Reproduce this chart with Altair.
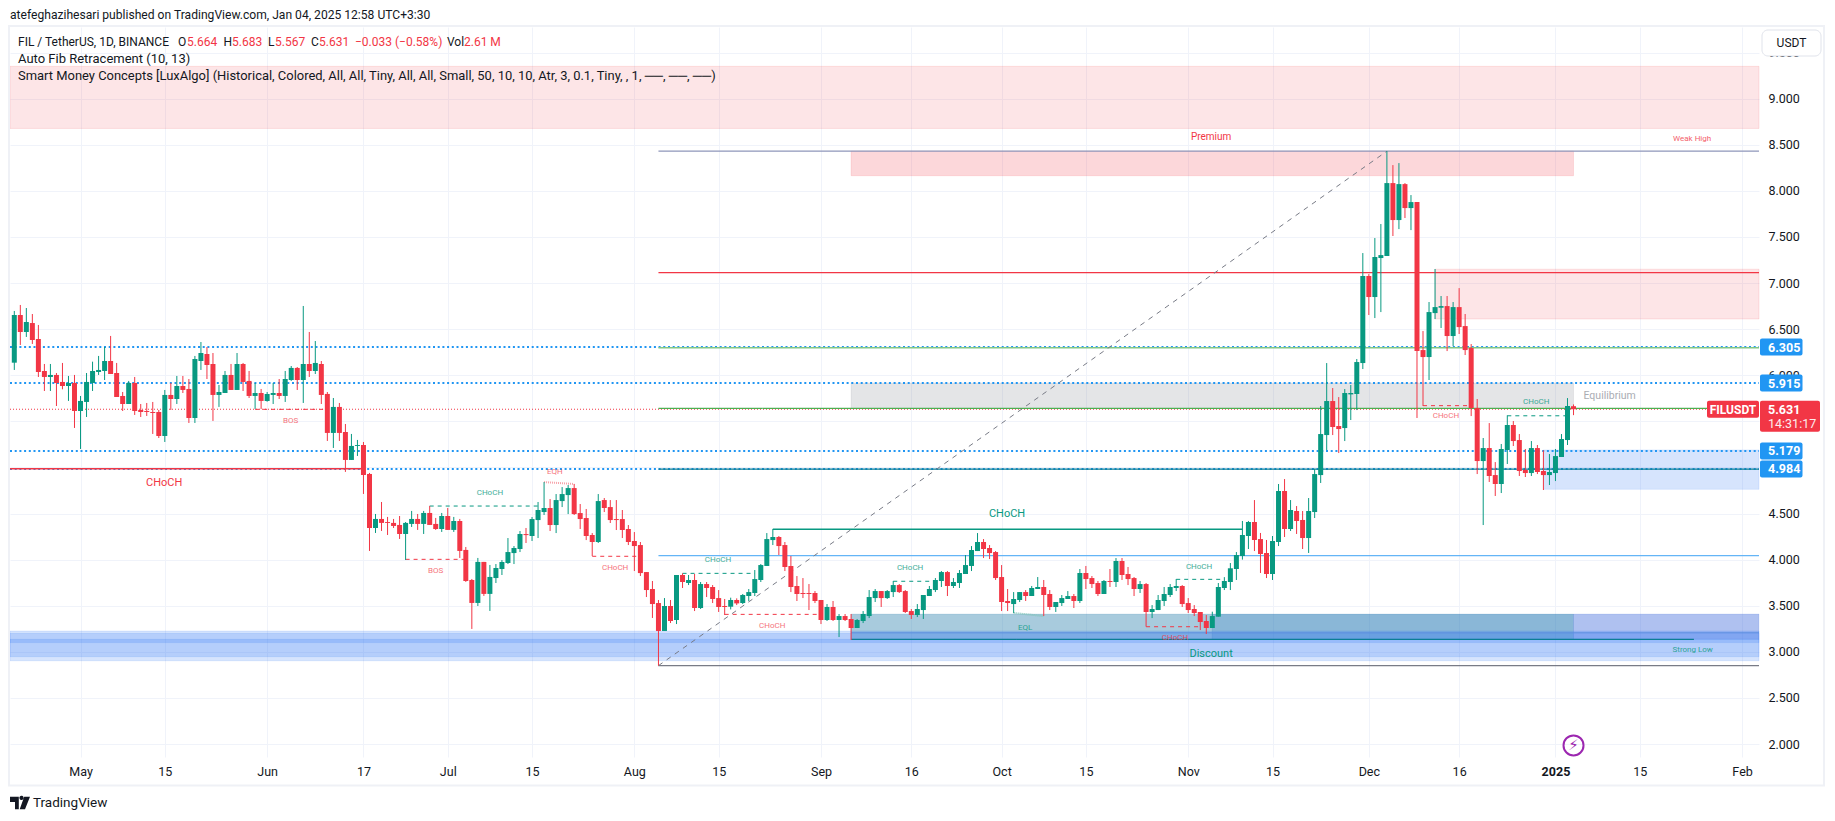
import altair as alt
import pandas as pd

FONT = "Roboto"
GREEN = "#089981"
RED = "#F23645"
BLUE = "#2196F3"
INK = "#131722"

# one candle per day, 20 Apr 2024 (bar 1) to 4 Jan 2025 (bar 260)
opens = [
6.136,6.653,6.469,6.566,6.393,6.046,5.981,6.003,5.927,5.883,
5.916,5.612,5.710,5.916,6.035,6.046,6.154,6.024,5.775,5.688,
5.916,5.623,5.612,5.601,5.601,5.341,5.786,5.742,5.883,5.851,
5.536,6.154,6.230,6.122,5.786,5.807,6.003,5.840,6.122,5.938,
5.775,5.807,5.721,5.786,5.807,5.775,5.948,6.079,5.948,6.122,
6.046,6.122,5.797,5.374,5.656,5.384,5.081,5.233,5.243,4.929,
4.343,4.441,4.408,4.398,4.376,4.278,4.387,4.441,4.387,4.506,
4.387,4.332,4.473,4.322,4.419,4.105,3.779,3.530,3.975,3.628,
3.800,3.898,3.963,4.071,4.115,4.277,4.256,4.429,4.516,4.560,
4.375,4.635,4.700,4.776,4.505,4.451,4.267,4.191,4.646,4.570,
4.440,4.440,4.332,4.202,4.158,3.865,3.681,3.529,3.226,3.497,
3.345,3.833,3.746,3.779,3.475,3.735,3.703,3.583,3.497,3.489,
3.562,3.529,3.605,3.638,3.779,3.931,4.212,4.245,4.158,3.931,
3.714,3.638,3.638,3.638,3.562,3.345,3.486,3.345,3.388,3.356,
3.258,3.334,3.388,3.583,3.659,3.583,3.648,3.724,3.659,3.442,
3.399,3.453,3.605,3.670,3.768,3.865,3.714,3.746,3.844,3.931,
4.093,4.191,4.126,4.082,3.811,3.551,3.518,3.562,3.648,3.605,
3.681,3.703,3.627,3.486,3.529,3.573,3.605,3.551,3.855,3.800,
3.746,3.627,3.768,3.757,3.985,3.844,3.800,3.681,3.735,3.432,
3.453,3.551,3.616,3.692,3.714,3.529,3.464,3.432,3.334,3.258,
3.381,3.692,3.757,3.898,4.039,4.256,4.408,4.223,4.072,3.844,
4.191,4.744,4.332,4.527,4.430,4.234,4.516,4.917,5.351,5.720,
5.449,5.427,5.792,5.796,6.132,7.076,6.848,7.271,7.293,8.084,
7.683,8.073,7.813,7.878,6.273,6.197,6.674,6.732,6.750,6.425,
6.739,6.533,6.295,5.644,5.069,5.210,4.917,4.820,5.189,5.460,
5.297,4.972,4.939,5.210,4.961,4.917,4.939,5.113,5.297,5.664]
highs = [
6.697,6.762,6.729,6.664,6.545,6.122,6.122,6.024,6.133,5.992,
6.003,5.775,6.024,6.147,6.209,6.306,6.426,6.133,5.818,5.938,
5.981,5.688,5.699,5.710,5.623,5.840,5.916,5.992,5.992,5.959,
6.209,6.360,6.306,6.241,5.894,6.046,6.122,6.241,6.133,6.046,
5.916,5.851,5.818,5.916,5.959,6.046,6.100,6.089,6.751,6.469,
6.371,6.154,5.818,5.753,5.699,5.471,5.363,5.298,5.276,4.940,
4.495,4.625,4.463,4.441,4.473,4.408,4.528,4.495,4.528,4.582,
4.452,4.506,4.560,4.463,4.441,4.137,3.790,4.018,3.975,3.942,
3.952,3.995,4.234,4.147,4.310,4.343,4.462,4.625,4.841,4.657,
4.711,4.787,4.809,4.820,4.603,4.549,4.288,4.711,4.668,4.646,
4.646,4.538,4.375,4.299,4.191,3.865,3.768,3.562,3.583,3.562,
3.833,3.851,3.833,3.844,3.757,3.757,3.724,3.670,3.573,3.587,
3.580,3.627,3.681,3.887,3.952,4.288,4.332,4.256,4.191,4.039,
3.822,3.800,3.735,3.659,3.562,3.518,3.551,3.410,3.410,3.410,
3.356,3.442,3.670,3.681,3.659,3.670,3.768,3.735,3.670,3.464,
3.518,3.616,3.714,3.800,3.876,3.876,3.800,3.887,4.050,4.147,
4.288,4.223,4.158,4.093,3.941,3.681,3.648,3.648,3.670,3.714,
3.811,3.779,3.670,3.540,3.616,3.659,3.627,3.898,3.931,3.822,
3.768,3.779,3.898,4.017,4.017,3.920,3.811,3.768,3.746,3.507,
3.616,3.703,3.735,3.789,3.724,3.583,3.507,3.432,3.399,3.435,
3.746,3.810,3.963,4.082,4.419,4.419,4.646,4.289,4.213,4.256,
4.820,4.874,4.646,4.581,4.527,4.668,4.983,5.666,6.132,5.861,
5.763,5.850,5.894,6.176,7.325,7.097,7.488,7.640,8.431,8.279,
8.301,8.084,7.954,7.878,6.479,6.794,7.152,6.859,6.859,6.794,
6.945,6.664,6.338,5.742,5.319,5.481,5.058,5.254,5.565,5.503,
5.362,5.200,5.286,5.243,5.185,5.145,5.200,5.362,5.752,5.683]
lows = [
6.057,6.328,6.415,6.339,5.981,5.829,5.829,5.666,5.847,5.721,
5.428,5.200,5.547,5.829,6.003,5.948,6.013,5.764,5.612,5.688,
5.569,5.547,5.558,5.363,5.319,5.276,5.623,5.688,5.807,5.482,
5.482,6.057,5.959,5.504,5.656,5.807,5.840,5.840,5.829,5.753,
5.634,5.634,5.713,5.688,5.742,5.710,5.938,5.840,5.699,5.981,
6.013,5.688,5.287,5.211,5.287,4.951,5.081,5.124,4.712,4.094,
4.289,4.311,4.267,4.343,4.224,3.996,4.354,4.322,4.278,4.376,
4.322,4.300,4.322,4.300,4.018,3.758,3.248,3.497,3.606,3.443,
3.746,3.833,3.952,3.952,4.082,4.180,4.202,4.234,4.484,4.310,
4.288,4.570,4.494,4.484,4.332,4.212,4.039,4.180,4.516,4.397,
4.321,4.234,4.158,3.876,3.822,3.594,3.367,2.850,3.226,3.312,
3.301,3.692,3.724,3.442,3.464,3.594,3.529,3.432,3.399,3.460,
3.507,3.518,3.551,3.605,3.757,3.931,4.158,4.050,3.876,3.648,
3.551,3.583,3.453,3.529,3.301,3.334,3.334,3.160,3.334,3.128,
3.258,3.312,3.366,3.540,3.486,3.573,3.594,3.638,3.421,3.356,
3.377,3.356,3.605,3.648,3.703,3.605,3.692,3.692,3.844,3.876,
4.093,4.017,4.006,3.779,3.442,3.442,3.421,3.540,3.551,3.605,
3.681,3.388,3.453,3.432,3.497,3.573,3.475,3.529,3.681,3.692,
3.605,3.627,3.703,3.703,3.779,3.724,3.605,3.638,3.273,3.366,
3.453,3.497,3.594,3.659,3.486,3.421,3.388,3.236,3.193,3.258,
3.381,3.670,3.670,3.779,4.000,4.115,4.093,3.855,3.800,3.779,
4.147,4.245,4.310,4.278,4.115,4.072,4.451,4.831,5.189,5.351,
5.156,5.286,5.514,5.622,6.067,6.653,6.620,6.685,7.293,7.510,
7.585,7.705,7.574,5.536,5.666,5.948,6.609,6.512,6.262,6.316,
6.447,6.219,5.557,4.928,4.375,4.842,4.690,4.722,5.037,5.232,
4.907,4.896,4.907,4.928,4.755,4.809,4.852,5.113,5.243,5.567]
closes = [
6.653,6.469,6.577,6.382,6.035,5.981,6.003,5.916,5.883,5.916,
5.612,5.721,5.927,6.046,6.057,6.154,6.013,5.764,5.688,5.916,
5.612,5.601,5.601,5.590,5.341,5.786,5.742,5.883,5.840,5.536,
6.176,6.241,6.111,5.786,5.818,6.003,5.840,6.122,5.927,5.775,
5.807,5.721,5.797,5.807,5.775,5.959,6.079,5.948,6.122,6.046,
6.133,5.786,5.374,5.656,5.374,5.081,5.233,5.243,4.918,4.343,
4.441,4.398,4.398,4.365,4.278,4.398,4.441,4.387,4.506,4.376,
4.332,4.473,4.322,4.419,4.094,3.768,3.530,3.975,3.628,3.812,
3.909,3.974,4.082,4.126,4.277,4.266,4.440,4.538,4.560,4.375,
4.646,4.711,4.776,4.494,4.440,4.256,4.191,4.635,4.560,4.429,
4.429,4.321,4.191,4.147,3.854,3.670,3.518,3.226,3.497,3.334,
3.833,3.757,3.779,3.475,3.735,3.692,3.573,3.486,3.486,3.562,
3.525,3.616,3.648,3.789,3.941,4.223,4.245,4.147,3.920,3.703,
3.627,3.627,3.627,3.551,3.345,3.486,3.345,3.388,3.345,3.258,
3.345,3.410,3.594,3.659,3.583,3.659,3.724,3.648,3.432,3.399,
3.464,3.616,3.681,3.779,3.865,3.714,3.757,3.855,3.941,4.104,
4.191,4.115,4.071,3.800,3.540,3.529,3.573,3.648,3.605,3.692,
3.703,3.616,3.486,3.540,3.583,3.605,3.551,3.855,3.789,3.735,
3.627,3.768,3.757,3.985,3.833,3.789,3.681,3.735,3.432,3.464,
3.562,3.627,3.703,3.714,3.518,3.453,3.421,3.323,3.258,3.388,
3.703,3.768,3.906,4.050,4.267,4.408,4.213,4.061,3.844,4.202,
4.744,4.332,4.538,4.419,4.234,4.527,4.928,5.362,5.720,5.438,
5.416,5.807,5.807,6.143,7.076,6.848,7.282,7.303,8.084,7.683,
8.073,7.813,7.878,6.262,6.197,6.685,6.739,6.750,6.425,6.739,
6.522,6.273,5.644,5.069,5.210,4.907,4.820,5.200,5.460,5.286,
4.961,4.939,5.210,4.950,4.917,4.950,5.123,5.308,5.666,5.631]

bar_numbers = list(range(1, 261))
X_DOMAIN = [0.286, 290.81]
Y_DOMAIN = [1.859, 9.777]

time_ticks = [12, 26, 43, 59, 73, 87, 104, 118, 135, 150, 165, 179, 196, 210, 226, 241, 257, 271, 288]
time_labels = ["May", "15", "Jun", "17", "Jul", "15", "Aug", "15", "Sep", "16", "Oct", "15", "Nov", "15", "Dec", "16", "2025", "15", "Feb"]
price_ticks = [2.0, 2.5, 3.0, 3.5, 4.0, 4.5, 5.0, 5.5, 6.0, 6.5, 7.0, 7.5, 8.0, 8.5, 9.0, 9.5]

L, R = X_DOMAIN
# x0, x1, top, bottom, fill, alpha
zones = [
    (L, R, 9.35, 8.677, "#f23645", 0.13),
    (140, 260, 8.43, 8.164, "#f23645", 0.20),
    (237, R, 7.15, 6.61, "#f23645", 0.13),
    (140, 260, 5.915, 5.64, "#787b86", 0.20),
    (255, R, 5.19, 4.762, "#3179f5", 0.20),
    (140, 200, 3.41, 3.135, "#267daa", 0.40),
    (200, 260, 3.41, 3.135, "#156faf", 0.50),
    (260, R, 3.41, 3.135, "#3764da", 0.40),
    (L, R, 3.225, 2.903, "#3179f5", 0.20),
    (L, R, 3.20, 2.947, "#3179f5", 0.20),
    (L, R, 3.135, 3.10, "#3179f5", 0.22),
]
# x0, x1, price, colour, width, dash
levels = [
    (L, R, 6.305, BLUE, 2, [2, 2.7]),
    (L, R, 5.915, BLUE, 2, [2, 2.7]),
    (L, R, 5.179, BLUE, 2, [2, 2.7]),
    (L, R, 4.984, BLUE, 2, [2, 2.7]),
    (L, R, 5.631, RED, 1, [1, 2]),
    (108, R, 8.43, "#8f97ba", 1.3, [1, 0]),
    (108, R, 7.113, "#F23645", 1.3, [1, 0]),
    (108, R, 6.298, "#81C784", 1.3, [1, 0]),
    (108, R, 5.64, "#4CAF50", 1.3, [1, 0]),
    (108, R, 4.982, "#0b7d94", 1.3, [1, 0]),
    (108, R, 4.044, "#64B5F6", 1.3, [1, 0]),
    (108, R, 2.85, "#787B86", 1.3, [1, 0]),
    (140, 280, 3.135, "#0b7d94", 1.2, [1, 0]),
    (140, R, 3.207, "#5b8ee0", 1, [1, 0]),
    (L, 59, 4.985, RED, 1.5, [1, 0]),
    (127, 205, 4.328, GREEN, 1.5, [1, 0]),
    (41, 53, 5.63, RED, 1, [4, 4]),
    (66, 76, 4.003, RED, 1, [4, 4]),
    (97, 105, 4.036, RED, 1, [4, 4]),
    (119, 135, 3.406, RED, 1, [4, 4]),
    (189, 198, 3.272, RED, 1, [4, 4]),
    (235, 243, 5.67, RED, 1, [4, 4]),
    (70, 88, 4.581, GREEN, 1, [4, 4]),
    (112, 124, 3.851, GREEN, 1, [4, 4]),
    (147, 153, 3.765, GREEN, 1, [4, 4]),
    (194, 202, 3.786, GREEN, 1, [4, 4]),
    (249, 259, 5.56, GREEN, 1, [4, 4]),
]
# x0, y0, x1, y1, colour, width, dash
slants = [
    (108, 2.85, 229, 8.43, "#787B86", 1, [5, 5]),
    (89, 4.841, 94, 4.82, "#f7a1a8", 2, [1, 1]),
    (167, 3.421, 172, 3.388, "#7fc4b8", 2, [1, 1]),
]
# x, price, text, colour, size, opacity
notes = [
    (199.8, 8.583, "Premium", RED, 10, 1),
    (279.7, 8.562, "Weak High", RED, 8, 0.8),
    (266, 5.778, "Equilibrium", "#9598a1", 10.5, 0.8),
    (199.8, 2.976, "Discount", GREEN, 11, 1),
    (279.8, 3.02, "Strong Low", GREEN, 8, 0.8),
    (25.9, 4.834, "CHoCH", RED, 11, 1),
    (165.9, 4.498, "CHoCH", GREEN, 11, 1),
    (46.9, 5.50, "BOS", RED, 8, 0.7),
    (71, 3.873, "BOS", RED, 8, 0.7),
    (80, 4.719, "CHoCH", GREEN, 8, 0.8),
    (90.8, 4.953, "EQH", RED, 8, 0.7),
    (100.8, 3.906, "CHoCH", RED, 8, 0.7),
    (117.9, 3.992, "CHoCH", GREEN, 8, 0.8),
    (126.9, 3.277, "CHoCH", RED, 8, 0.7),
    (149.8, 3.906, "CHoCH", GREEN, 8, 0.8),
    (168.9, 3.255, "EQL", GREEN, 8, 0.8),
    (193.8, 3.146, "CHoCH", RED, 8, 0.8),
    (197.8, 3.916, "CHoCH", GREEN, 8, 0.8),
    (238.8, 5.554, "CHoCH", RED, 8, 0.7),
    (253.8, 5.706, "CHoCH", GREEN, 8, 0.8),
]
price_tags = [("6.305", 6.305, BLUE), ("5.915", 5.915, BLUE), ("5.179", 5.179, BLUE), ("4.984", 4.984, BLUE)]

x_axis = alt.Axis(
    values=time_ticks,
    labelExpr="{}[indexof({}, datum.value)]".format(time_labels, time_ticks),
    grid=True, gridColor="#f0f3fa", gridWidth=1, ticks=False, domain=False, title=None,
    labelColor=INK, labelFont=FONT, labelFontSize=12.5, labelPadding=8, labelOverlap=False,
    labelFlush=False,
    labelFontWeight={"condition": {"test": "datum.value == 257", "value": "bold"}, "value": "normal"},
)
y_axis = alt.Axis(
    orient="right", values=price_ticks, format=".3f",
    grid=True, gridColor="#f0f3fa", gridWidth=1, ticks=False, domain=False, title=None,
    labelColor=INK, labelFont=FONT, labelFontSize=12.5, labelPadding=9, labelOverlap=False, labelFlush=False,
)


def xq(field):
    return alt.X(field, type="quantitative", scale=alt.Scale(domain=X_DOMAIN, nice=False, zero=False, padding=0), axis=x_axis)


def yq(field):
    return alt.Y(field, type="quantitative", scale=alt.Scale(domain=Y_DOMAIN, nice=False, zero=False), axis=y_axis)


candles = pd.DataFrame({"bar": bar_numbers, "open": opens, "high": highs, "low": lows, "close": closes})
candles["color"] = [GREEN if c >= o else RED for o, c in zip(opens, closes)]
zone_df = pd.DataFrame(zones, columns=["x0", "x1", "top", "bottom", "fill", "alpha"])
note_df = pd.DataFrame(notes, columns=["x", "y", "text", "color", "size", "alpha"])

layers = []

layers.append(
    alt.Chart(zone_df).mark_rect(strokeWidth=1, strokeOpacity=0.12).encode(
        x=xq("x0"), x2="x1", y=yq("top"), y2="bottom",
        fill=alt.Fill("fill:N", scale=None),
        stroke=alt.Stroke("fill:N", scale=None),
        fillOpacity=alt.FillOpacity("alpha:Q", scale=None),
    )
)

for x0, x1, price, color, width, dash in levels:
    frame = pd.DataFrame({"x0": [x0], "x1": [x1], "price": [price]})
    layers.append(
        alt.Chart(frame).mark_rule(color=color, strokeWidth=width, strokeDash=dash).encode(
            x=xq("x0"), x2="x1", y=yq("price")
        )
    )

for x0, y0, x1, y1, color, width, dash in slants:
    frame = pd.DataFrame({"x": [x0, x1], "y": [y0, y1]})
    layers.append(
        alt.Chart(frame).mark_line(color=color, strokeWidth=width, strokeDash=dash).encode(
            x=xq("x"), y=yq("y")
        )
    )

layers.append(
    alt.Chart(candles).mark_rule(strokeWidth=1).encode(
        x=xq("bar"), y=yq("low"), y2="high", color=alt.Color("color:N", scale=None)
    )
)
layers.append(
    alt.Chart(candles).mark_bar(size=5, cornerRadius=0).encode(
        x=xq("bar"), y=yq("open"), y2="close", color=alt.Color("color:N", scale=None)
    )
)

layers.append(
    alt.Chart(note_df).mark_text(font=FONT, baseline="middle", align="center").encode(
        x=xq("x"), y=yq("y"), text="text:N",
        color=alt.Color("color:N", scale=None),
        size=alt.Size("size:Q", scale=None),
        opacity=alt.Opacity("alpha:Q", scale=None),
    )
)

# event marker near the last bar
marker = pd.DataFrame({"x": [260], "y": [1.985], "glyph": ["\u26A1"]})
layers.append(
    alt.Chart(marker).mark_point(shape="circle", size=400, filled=False, color="#9C27B0", strokeWidth=2, opacity=1).encode(
        x=xq("x"), y=yq("y")
    )
)
layers.append(
    alt.Chart(marker).mark_text(font="DejaVu Sans", fontSize=15, color="#9C27B0", baseline="middle").encode(
        x=xq("x"), y=yq("y"), text="glyph:N"
    )
)


# page furniture is placed in pixels relative to the pane's top-left corner
def label(text, px, py, color=INK, size=13, weight="normal", align="left", opacity=1):
    return alt.Chart(pd.DataFrame({"t": [text]})).mark_text(
        font=FONT, fontSize=size, fontWeight=weight, color=color, align=align, baseline="middle", opacity=opacity
    ).encode(x=alt.value(px), y=alt.value(py), text="t:N")


def box(x0, x1, y0, y1, fill, stroke=None, radius=2, fill_opacity=1, stroke_width=1):
    kw = dict(fill=fill, cornerRadius=radius, fillOpacity=fill_opacity)
    if stroke:
        kw.update(stroke=stroke, strokeWidth=stroke_width)
    return alt.Chart(pd.DataFrame({"a": [0]})).mark_rect(**kw).encode(
        x=alt.value(x0), x2=alt.value(x1), y=alt.value(y0), y2=alt.value(y1)
    )


y_of = lambda price: (Y_DOMAIN[1] - price) * 730 / (Y_DOMAIN[1] - Y_DOMAIN[0])

layers.append(box(-1, 1814, -1, 758.5, "#ffffff", "#eff1f6", 0, 0, 2))
layers.append(box(1752, 1811, 3, 29, "#ffffff", "#e0e3eb", 6))
layers.append(label("USDT", 1781.5, 16, INK, 12, align="center"))

for text, price, color in price_tags:
    yy = y_of(price)
    layers.append(box(1750, 1792.5, yy - 8.5, yy + 8.5, color))
    layers.append(label(text, 1758, yy + 0.5, "#ffffff", 12.5, "bold"))

yy = y_of(5.631)
layers.append(box(1697, 1749, yy - 8.5, yy + 8.5, RED))
layers.append(box(1750, 1810, yy - 8.5, yy + 22.5, RED))
layers.append(label("FILUSDT", 1723, yy + 0.5, "#ffffff", 12, "bold", align="center"))
layers.append(label("5.631", 1758, yy + 0.5, "#ffffff", 12.5, "bold"))
layers.append(label("14:31:17", 1758, yy + 15, "#ffffff", 12.5, "normal", opacity=0.9))

layers.append(label("atefeghazihesari published on TradingView.com, Jan 04, 2025 12:58 UTC+3:30", 0, -12, INK, 12.1))
layers.append(label("FIL / TetherUS, 1D, BINANCE", 8, 15, INK, 12))
for text, px, color in [
    ("O", 168, INK), ("5.664", 177, RED), ("H", 213.5, INK), ("5.683", 222, RED),
    ("L", 258, INK), ("5.567", 265, RED), ("C", 301, INK), ("5.631", 309, RED),
    ("\u22120.033 (\u22120.58%)", 345, RED), ("Vol", 437, INK), ("2.61 M", 454, RED),
]:
    layers.append(label(text, px, 15, color, 12))
layers.append(label("Auto Fib Retracement (10, 13)", 8, 32, INK, 13))
layers.append(label(
    "Smart Money Concepts [LuxAlgo] (Historical, Colored, All, All, Tiny, All, All, Small, 50, 10, 10, Atr, 3, 0.1, Tiny, , 1, \u2500\u2500, \u2500\u2500, \u2500\u2500)",
    8, 49, INK, 12.95))

tv_logo = "M-1,-0.62 H-0.12 V0.62 H-0.5 V-0.1 H-1 Z M0.42,-0.62 H1 L0.5,0.62 H-0.03 Z M-0.03,-0.62 A0.19,0.19 0 1 0 0.33,-0.4 A0.19,0.19 0 1 0 -0.03,-0.62 Z"
layers.append(
    alt.Chart(pd.DataFrame({"a": [0]})).mark_point(shape=tv_logo, size=400, filled=True, color=INK, opacity=1).encode(
        x=alt.value(10), y=alt.value(776)
    )
)
layers.append(label("TradingView", 23, 776, INK, 13.5))

chart = alt.layer(*layers).properties(
    width=1749, height=730,
    padding={"left": 2, "top": 19, "right": 68, "bottom": 55},
    autosize=alt.AutoSizeParams(type="none"),
    background="#ffffff",
).configure_view(stroke=None)

chart.save("out.html", embed_options={"renderer": "svg", "actions": False})
